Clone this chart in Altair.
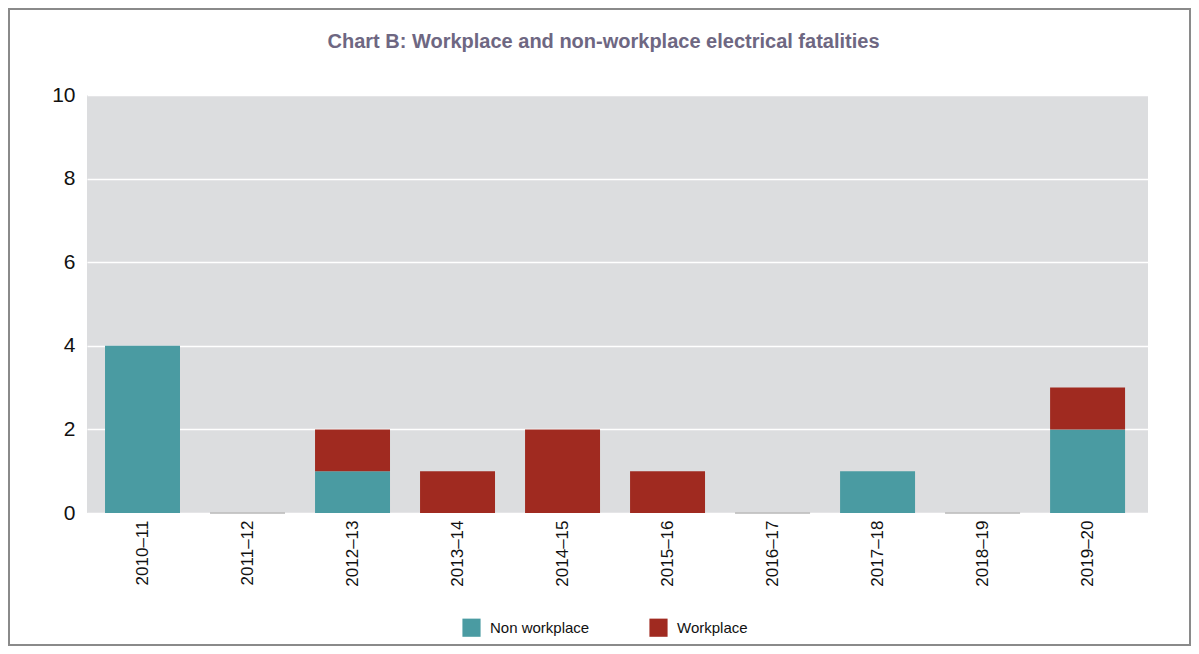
import altair as alt
import pandas as pd

years = ["2010–11", "2011–12", "2012–13", "2013–14", "2014–15",
         "2015–16", "2016–17", "2017–18", "2018–19", "2019–20"]
non_workplace = [4, 0, 1, 0, 0, 0, 0, 1, 0, 2]
workplace = [0, 0, 1, 1, 2, 1, 0, 0, 0, 1]
series = ["Non workplace", "Workplace"]
colors = ["#4a9ba2", "#a02a20"]

rows = []
for i, y in enumerate(years):
    rows.append({"year": y, "type": series[0], "value": non_workplace[i], "ord": 0})
    rows.append({"year": y, "type": series[1], "value": workplace[i], "ord": 1})
df = pd.DataFrame(rows)

zero_df = pd.DataFrame({"year": [y for i, y in enumerate(years)
                                 if non_workplace[i] + workplace[i] == 0]})

FONT = "Liberation Sans Narrow, Arial Narrow, Liberation Sans, sans-serif"

W, H = 1061, 418
PL, PT, PR, PB = 79, 87, 43, 133

xenc = alt.X("year:N", sort=years, title=None,
             scale=alt.Scale(paddingInner=0.286, paddingOuter=0.195, align=0.44),
             axis=alt.Axis(labelAngle=-90, labelFontSize=17, labelColor="#111111",
                           labelPadding=7, domain=False, ticks=False, grid=False,
                           labelFont=FONT))

bars = alt.Chart(df).mark_bar().encode(
    x=xenc,
    y=alt.Y("sum(value):Q", title=None,
            scale=alt.Scale(domain=[0, 10], nice=False),
            axis=alt.Axis(values=[0, 2, 4, 6, 8, 10], labelFontSize=21,
                          labelColor="#111111", labelPadding=12, domain=False,
                          ticks=False, gridColor="#ffffff", gridWidth=1.5,
                          labelFont=FONT)),
    color=alt.Color("type:N", scale=alt.Scale(domain=series, range=colors),
                    legend=alt.Legend(title=None, orient="none", direction="horizontal",
                                      legendX=375, legendY=523, symbolType="square",
                                      symbolSize=330, symbolStrokeWidth=0,
                                      labelFontSize=15, labelFont=FONT,
                                      labelColor="#111111", columnPadding=59,
                                      labelOffset=9)),
    order=alt.Order("ord:Q"),
)

zeros = alt.Chart(zero_df).mark_bar(fill="#b8b8b8", stroke="#b8b8b8", strokeWidth=1).encode(
    x=alt.X("year:N", sort=years),
    y=alt.datum(0),
    y2=alt.datum(0),
)

border = alt.Chart(pd.DataFrame({"a": [0]})).mark_rect(
    fillOpacity=0, stroke="#8a8a8a", strokeWidth=2, clip=False
).encode(
    x=alt.value(-PL + 1), x2=alt.value(W + PR - 1),
    y=alt.value(-PT + 1), y2=alt.value(H + PB - 1),
)

chart = alt.layer(bars, zeros, border).properties(
    width=W, height=H,
    title=alt.TitleParams("Chart B: Workplace and non-workplace electrical fatalities",
                          fontSize=20, font=FONT, fontWeight="bold", color="#6e6782",
                          anchor="middle", offset=0, dy=44, dx=-14),
    autosize=alt.AutoSizeParams(type="none"),
    padding={"left": PL, "top": PT, "right": PR, "bottom": PB},
).configure(background="white").configure_view(fill="#dcdddf", stroke=None)

chart.save("out.html", embed_options={"renderer": "svg", "actions": False})
